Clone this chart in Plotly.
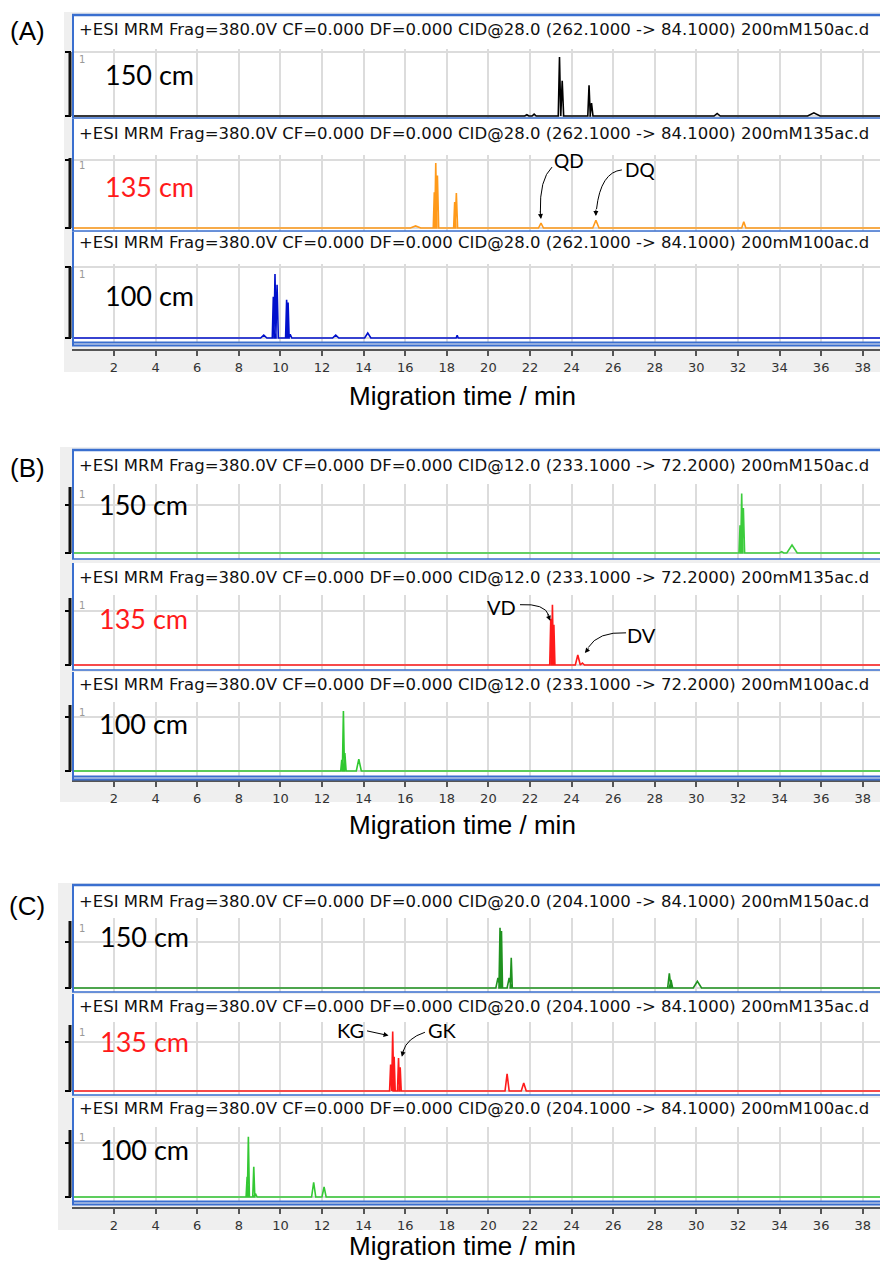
import plotly.graph_objects as go

W, H = 880, 1263

# ---------------- data ----------------
TICKS = [2, 4, 6, 8, 10, 12, 14, 16, 18, 20, 22, 24, 26, 28, 30, 32, 34, 36, 38]
X_MIN, X_MAX = -0.02, 38.83

HEAD_A = "+ESI MRM Frag=380.0V CF=0.000 DF=0.000 CID@28.0 (262.1000 -> 84.1000) 200mM1{}ac.d"
HEAD_B = "+ESI MRM Frag=380.0V CF=0.000 DF=0.000 CID@12.0 (233.1000 -> 72.2000) 200mM1{}ac.d"
HEAD_C = "+ESI MRM Frag=380.0V CF=0.000 DF=0.000 CID@20.0 (204.1000 -> 84.1000) 200mM1{}ac.d"
FILE_SUFFIX = ["50", "35", "00"]
LENGTH_LABELS = ["150 cm", "135 cm", "100 cm"]
PANEL_LABELS = ["(A)", "(B)", "(C)"]
AXIS_TITLE = "Migration time / min"

# Panel A  (peak time / min, relative height, half width / min)
A150_t = [21.85, 22.20, 23.42, 23.55, 24.84, 24.96, 31.00, 35.65]
A150_h = [0.02, 0.03, 0.92, 0.55, 0.48, 0.20, 0.04, 0.05]
A150_w = [0.10, 0.10, 0.06, 0.07, 0.06, 0.07, 0.15, 0.30]

A135_t = [16.50, 17.40, 17.47, 17.55, 18.38, 18.46, 22.53, 25.17, 32.28]
A135_h = [0.03, 0.51, 0.93, 0.75, 0.37, 0.50, 0.07, 0.11, 0.09]
A135_w = [0.25, 0.05, 0.05, 0.06, 0.05, 0.06, 0.12, 0.15, 0.10]

A100_t = [9.20, 9.66, 9.74, 9.84, 10.30, 10.37, 10.47, 12.66, 14.20, 18.50]
A100_h = [0.04, 0.58, 0.90, 0.75, 0.54, 0.50, 0.05, 0.04, 0.07, 0.04]
A100_w = [0.15, 0.05, 0.05, 0.06, 0.05, 0.05, 0.08, 0.15, 0.15, 0.05]

# Panel B
B150_t = [32.10, 32.18, 32.26, 34.10, 34.60]
B150_h = [0.42, 0.90, 0.68, 0.02, 0.12]
B150_w = [0.05, 0.05, 0.06, 0.10, 0.25]

B135_t = [23.00, 23.08, 23.15, 24.30, 24.52]
B135_h = [0.69, 0.90, 0.60, 0.15, 0.03]
B135_w = [0.05, 0.05, 0.05, 0.12, 0.10]

B100_t = [12.95, 13.03, 13.10, 13.77]
B100_h = [0.17, 0.91, 0.27, 0.18]
B100_w = [0.05, 0.05, 0.06, 0.12]

# Panel C
C150_t = [20.46, 20.56, 20.63, 21.00, 21.10, 28.70, 28.78, 30.05]
C150_h = [0.15, 0.90, 0.85, 0.15, 0.45, 0.22, 0.12, 0.10]
C150_w = [0.10, 0.05, 0.05, 0.10, 0.05, 0.08, 0.08, 0.20]

C135_t = [15.30, 15.40, 15.47, 15.68, 15.76, 20.90, 21.70]
C135_h = [0.40, 0.90, 0.52, 0.50, 0.36, 0.26, 0.12]
C135_w = [0.05, 0.05, 0.05, 0.05, 0.05, 0.10, 0.12]

C100_t = [8.40, 8.46, 8.72, 8.80, 11.60, 12.10]
C100_h = [0.30, 0.90, 0.45, 0.05, 0.22, 0.15]
C100_w = [0.05, 0.05, 0.05, 0.08, 0.10, 0.10]

# ---------------- styling / layout ----------------
BLUE = "#3a6fcf"
GRID = "#dcdcdc"
RED = "#ff1a1a"

def fx(x):
    return x / W

def fy(y):
    return 1 - y / H

def peak_line(t, h, w):
    xs, ys = [X_MIN], [0.0]
    for ti, hi, wi in sorted(zip(t, h, w)):
        xs += [ti - wi, ti, ti + wi]
        ys += [0.0, hi, 0.0]
    xs.append(X_MAX + 0.5)
    ys.append(0.0)
    return xs, ys

panels = [
    dict(label_y=31, grey_top=12, grey_left=64, axis_y=350, grey_bot=372, title_y=396,
         subs=[(15, 30, 52, 116, 118), (119, 133, 158, 228, 231), (232, 243, 267, 338, 342)],
         grid=[1.0, 0.97, 1.0], lab_x=103, lab_y=[75, 187, 295], head=HEAD_A,
         series=[(A150_t, A150_h, A150_w, "#000000"),
                 (A135_t, A135_h, A135_w, "#ff9a1a"),
                 (A100_t, A100_h, A100_w, "#0010cc")]),
    dict(label_y=468, grey_top=447, grey_left=60, axis_y=781, grey_bot=802, title_y=825,
         subs=[(450, 465, 487, 553, 559), (563, 577, 598, 665, 670), (672, 684, 705, 771, 776)],
         grid=[0.72, 0.8, 0.82], lab_x=97, lab_y=[504, 618, 724], head=HEAD_B,
         series=[(B150_t, B150_h, B150_w, "#3ccc3c"),
                 (B135_t, B135_h, B135_w, RED),
                 (B100_t, B100_h, B100_w, "#30c830")]),
    dict(label_y=906, grey_top=883, grey_left=58, axis_y=1208, grey_bot=1230, title_y=1246,
         subs=[(885, 901, 921, 988, 992), (994, 1006, 1025, 1091, 1095), (1098, 1108, 1130, 1197, 1201)],
         grid=[0.69, 0.75, 0.8], lab_x=98, lab_y=[936, 1041, 1149], head=HEAD_C,
         series=[(C150_t, C150_h, C150_w, "#1f921f"),
                 (C135_t, C135_h, C135_w, RED),
                 (C100_t, C100_h, C100_w, "#33c833")]),
]

fig = go.Figure()
shapes, annos, layout = [], [], {}
n = 0
for pi, p in enumerate(panels):
    shapes.append(dict(type="rect", xref="paper", yref="paper", layer="below",
                       x0=fx(p["grey_left"]), x1=1, y0=fy(p["grey_bot"]), y1=fy(p["grey_top"]),
                       fillcolor="#efefef", line_width=0))
    annos.append(dict(xref="paper", yref="paper", x=fx(27), y=fy(p["label_y"]), text=PANEL_LABELS[pi],
                      showarrow=False, xanchor="center", yanchor="middle",
                      font=dict(family="Liberation Sans, Arial", size=26, color="#000")))
    annos.append(dict(xref="paper", yref="paper", x=fx(462), y=fy(p["title_y"]), text=AXIS_TITLE,
                      showarrow=False, xanchor="center", yanchor="middle",
                      font=dict(family="Liberation Sans, Arial", size=26, color="#000")))
    for i, (ftop, hy, btop, base, fbot) in enumerate(p["subs"]):
        n += 1
        sfx = "" if n == 1 else str(n)
        R = base - btop
        shapes.append(dict(type="rect", xref="paper", yref="paper", layer="below",
                           x0=fx(72), x1=1, y0=fy(fbot), y1=fy(ftop),
                           fillcolor="#ffffff", line_width=0))
        layout["yaxis" + sfx] = dict(domain=[fy(fbot), fy(btop - 3)],
                                     range=[(base - fbot) / R, (base - (btop - 3)) / R],
                                     anchor="x" + sfx, tickvals=[0, p["grid"][i]],
                                     showticklabels=False, ticks="outside", ticklen=6,
                                     tickwidth=1.5, tickcolor="#000", showgrid=True,
                                     gridcolor=GRID, gridwidth=1.5, zeroline=False,
                                     showline=False, fixedrange=True)
        xa = dict(domain=[fx(72), 1], range=[X_MIN, X_MAX], tickvals=TICKS, showgrid=True,
                  gridcolor=GRID, gridwidth=1.5, zeroline=False, fixedrange=True)
        if i == 2:
            xa.update(anchor="free", position=fy(p["axis_y"]), showline=True, linecolor="#555",
                      linewidth=2, ticks="outside", ticklen=5, tickwidth=1.5, tickcolor="#555",
                      showticklabels=True,
                      tickfont=dict(family="DejaVu Sans", size=13, color="#333"))
        else:
            xa.update(anchor="y" + sfx, showticklabels=False, ticks="")
        layout["xaxis" + sfx] = xa

        t, h, w, col = p["series"][i]
        xs, ys = peak_line(t, h, w)
        fig.add_trace(go.Scatter(x=xs, y=ys, mode="lines", line=dict(color=col, width=1.6),
                                 xaxis="x" + sfx, yaxis="y" + sfx, hoverinfo="skip",
                                 showlegend=False))

        # y-axis bar
        shapes.append(dict(type="line", xref="paper", yref="y" + sfx, x0=fx(70), x1=fx(70),
                           y0=0, y1=1, line=dict(color="#111", width=3), layer="above"))
        # blue frame
        shapes.append(dict(type="line", xref="paper", yref="paper", x0=fx(73), x1=fx(73),
                           y0=fy(fbot + (4 if i == 2 else 0)), y1=fy(ftop),
                           line=dict(color=BLUE, width=2), layer="above"))
        if i == 0:
            shapes.append(dict(type="line", xref="paper", yref="paper", x0=fx(72), x1=1,
                               y0=fy(ftop), y1=fy(ftop), line=dict(color=BLUE, width=2.5),
                               layer="above"))
        if i < 2:
            shapes.append(dict(type="line", xref="paper", yref="paper", x0=fx(72), x1=1,
                               y0=fy(fbot), y1=fy(fbot), line=dict(color=BLUE, width=1.5),
                               layer="above"))
        else:
            for dy, wd in ((0.5, 2), (3.5, 2)):
                shapes.append(dict(type="line", xref="paper", yref="paper", x0=fx(72), x1=1,
                                   y0=fy(fbot + dy), y1=fy(fbot + dy),
                                   line=dict(color=BLUE, width=wd), layer="above"))
        # header, "1", length label
        annos.append(dict(xref="paper", yref="paper", x=fx(77), y=fy(hy),
                          text=p["head"].format(FILE_SUFFIX[i]), showarrow=False,
                          xanchor="left", yanchor="middle",
                          font=dict(family="DejaVu Sans", size=16.5, color="#111")))
        annos.append(dict(xref="paper", yref="y" + sfx, x=fx(77), y=1, text="1",
                          showarrow=False, xanchor="left", yanchor="top",
                          font=dict(family="DejaVu Sans", size=10, color="#999")))
        annos.append(dict(xref="paper", yref="paper", x=fx(p["lab_x"]), y=fy(p["lab_y"][i]),
                          text=LENGTH_LABELS[i], showarrow=False, xanchor="left",
                          yanchor="middle",
                          font=dict(family="Lato", size=27,
                                    color=RED if i == 1 else "#000")))

# ---------------- peak annotations (data coordinates) ----------------
PEAK_NOTES = [
    # subplot, text, text x, text y, curve path (or None), tip x, tip y, ax, ay, size
    ("2", "QD", 23.88, 0.97, "M 23.06,0.87 Q 22.45,0.70 22.50,0.22", 22.53, 0.13, -1, -9, 19),
    ("2", "DQ", 27.30, 0.83, "M 26.42,0.83 Q 25.40,0.80 25.20,0.27", 25.17, 0.17, 0, -8, 19),
    ("5", "VD", 20.65, 0.87, "M 21.52,0.90 Q 22.72,0.92 22.91,0.74", 22.97, 0.66, -3, -8, 20),
    ("5", "DV", 27.34, 0.45, "M 26.62,0.48 Q 25.27,0.50 24.80,0.26", 24.64, 0.18, 5, -6, 20),
    ("8", "KG", 13.35, 0.92, None, 15.20, 0.84, -23, -5, 20),
    ("8", "GK", 17.77, 0.92, "M 16.95,0.89 Q 16.08,0.80 15.90,0.60", 15.84, 0.52, 2, -8, 20),
]
for sp, txt, tx, ty, path, px, py, ax, ay, sz in PEAK_NOTES:
    annos.append(dict(xref="x" + sp, yref="y" + sp, x=tx, y=ty, text=txt, showarrow=False,
                      xanchor="center", yanchor="middle",
                      font=dict(family="Lato", size=sz, color="#000")))
    if path:
        shapes.append(dict(type="path", xref="x" + sp, yref="y" + sp, path=path,
                           line=dict(color="#000", width=1), layer="above"))
    annos.append(dict(xref="x" + sp, yref="y" + sp, x=px, y=py, text="", showarrow=True,
                      ax=ax, ay=ay, arrowhead=2, arrowsize=1, arrowwidth=1, arrowcolor="#000"))

fig.update_layout(width=W, height=H, margin=dict(l=0, r=0, t=0, b=0),
                  paper_bgcolor="#ffffff", plot_bgcolor="rgba(0,0,0,0)",
                  shapes=shapes, annotations=annos, showlegend=False, **layout)
fig.write_html("out.html", config={"displayModeBar": False},
               post_script="document.body.style.margin='0';document.body.style.padding='0';")
